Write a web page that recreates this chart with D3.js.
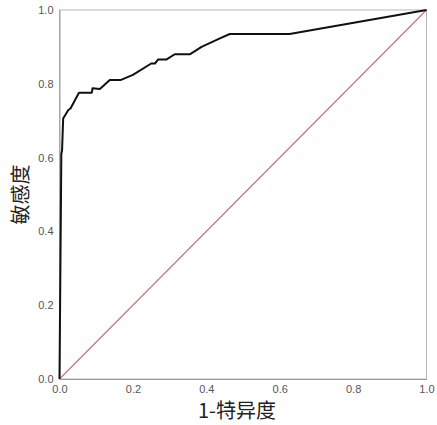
<!DOCTYPE html>
<html>
<head>
<meta charset="utf-8">
<script src="https://cdn.jsdelivr.net/npm/d3@7"></script>
<style>
  body { margin: 0; background: #fff; }
  .tick text { font-family: "Liberation Sans", Arial, sans-serif; font-size: 11px; fill: #555; }
  .title { font-family: "Noto Sans CJK SC", serif; font-size: 20px; fill: #222; }
</style>
</head>
<body>
<script>
const width = 437
const height = 425
const margin = {top: 10, right: 10, bottom: 46, left: 59.5}

// ROC curve points (1 - specificity, sensitivity)
const fpr = [0, 0.005, 0.007, 0.01, 0.024, 0.03, 0.053, 0.088, 0.09, 0.11, 0.137, 0.166, 0.2, 0.25, 0.26, 0.269, 0.292, 0.314, 0.355, 0.387, 0.437, 0.464, 0.627, 1]
const tpr = [0, 0.61, 0.62, 0.706, 0.729, 0.733, 0.776, 0.776, 0.788, 0.786, 0.81, 0.81, 0.824, 0.855, 0.855, 0.866, 0.866, 0.88, 0.88, 0.9, 0.923, 0.935, 0.935, 1]
const refLine = [0, 1]
const tickValues = [0, 0.2, 0.4, 0.6, 0.8, 1.0]

const svg = d3.select('body').append('svg')
  .attr('width', width)
  .attr('height', height)

const x = d3.scaleLinear().domain([0, 1]).range([margin.left, width - margin.right - 0.5])
const y = d3.scaleLinear().domain([0, 1]).range([height - margin.bottom, margin.top])

// frame
svg.append('rect')
  .attr('x', x(0)).attr('y', y(1))
  .attr('width', x(1) - x(0)).attr('height', y(0) - y(1))
  .attr('fill', 'none').attr('stroke', '#b8b8b8').attr('stroke-width', 1)

// axes
const xAxis = svg.append('g')
  .attr('transform', `translate(0,${y(0)})`)
  .call(d3.axisBottom(x).tickValues(tickValues).tickFormat(d3.format('.1f')).tickSize(0).tickPadding(6))
xAxis.select('.domain').attr('stroke', '#999')

const yAxis = svg.append('g')
  .attr('transform', `translate(${x(0)},0)`)
  .call(d3.axisLeft(y).tickValues(tickValues).tickFormat(d3.format('.1f')).tickSize(0).tickPadding(6))
yAxis.select('.domain').attr('stroke', '#999')

// reference diagonal
svg.append('line')
  .attr('x1', x(refLine[0])).attr('y1', y(refLine[0]))
  .attr('x2', x(refLine[1])).attr('y2', y(refLine[1]))
  .attr('stroke', '#c0707c').attr('stroke-width', 1.1)

// ROC curve
const line = d3.line().x(d => x(d[0])).y(d => y(d[1]))
svg.append('path')
  .datum(fpr.map((v, i) => [v, tpr[i]]))
  .attr('d', line)
  .attr('fill', 'none')
  .attr('stroke', '#111')
  .attr('stroke-width', 2)
  .attr('stroke-linejoin', 'round')

// titles
svg.append('text').classed('title', true)
  .attr('x', 237).attr('y', 418)
  .attr('text-anchor', 'middle')
  .text('1-特异度')

svg.append('text').classed('title', true)
  .attr('transform', `translate(28,${y(0.5)}) rotate(-90)`)
  .attr('text-anchor', 'middle')
  .text('敏感度')
</script>
</body>
</html>
